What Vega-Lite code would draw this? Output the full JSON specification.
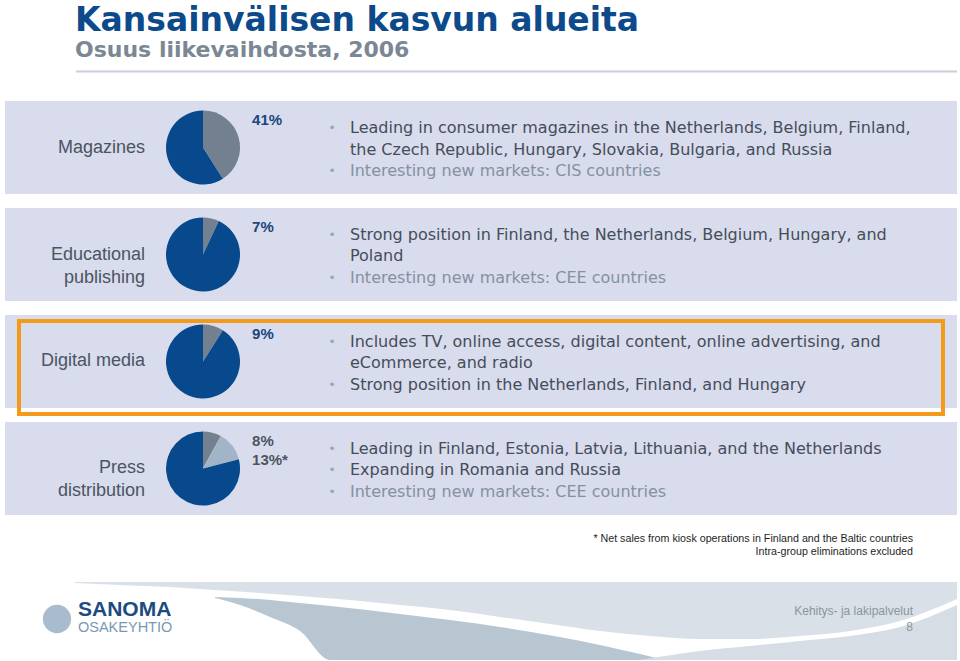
{
  "$schema": "https://vega.github.io/schema/vega-lite/v6.json",
  "background": "white",
  "padding": {"left": 5, "top": 4, "right": 3, "bottom": 0},
  "title": {
    "text": "Kansainvälisen kasvun alueita",
    "subtitle": "Osuus liikevaihdosta, 2006",
    "anchor": "start",
    "frame": "group",
    "dx": 70,
    "offset": 10,
    "font": "DejaVu Sans",
    "fontSize": 33,
    "fontWeight": "bold",
    "color": "#0c4a8b",
    "subtitleFont": "DejaVu Sans",
    "subtitleFontSize": 22,
    "subtitleFontWeight": "bold",
    "subtitleColor": "#7b8794",
    "subtitlePadding": 2
  },
  "datasets": {
    "divisions": [
      {"category": "Magazines", "labelLines": ["Magazines"]},
      {"category": "Educational publishing", "labelLines": ["Educational", "publishing"]},
      {"category": "Digital media", "labelLines": ["Digital media"]},
      {"category": "Press distribution", "labelLines": ["Press", "distribution"]}
    ],
    "slices": [
      {"category": "Magazines", "segment": "Division", "order": 1, "share": 41, "label": "41%"},
      {"category": "Magazines", "segment": "Rest of group", "order": 3, "share": 59, "label": ""},
      {"category": "Educational publishing", "segment": "Division", "order": 1, "share": 7, "label": "7%"},
      {"category": "Educational publishing", "segment": "Rest of group", "order": 3, "share": 93, "label": ""},
      {"category": "Digital media", "segment": "Division", "order": 1, "share": 9, "label": "9%"},
      {"category": "Digital media", "segment": "Rest of group", "order": 3, "share": 91, "label": ""},
      {"category": "Press distribution", "segment": "Division", "order": 1, "share": 8, "label": "8%"},
      {"category": "Press distribution", "segment": "Kiosk operations", "order": 2, "share": 13, "label": "13%*"},
      {"category": "Press distribution", "segment": "Rest of group", "order": 3, "share": 79, "label": ""}
    ],
    "notes": [
      {"category": "Magazines", "line": 1, "first": true, "kind": "current", "text": "Leading in consumer magazines in the Netherlands, Belgium, Finland,"},
      {"category": "Magazines", "line": 2, "first": false, "kind": "current", "text": "the Czech Republic, Hungary, Slovakia, Bulgaria, and Russia"},
      {"category": "Magazines", "line": 3, "first": true, "kind": "prospect", "text": "Interesting new markets: CIS countries"},
      {"category": "Educational publishing", "line": 1, "first": true, "kind": "current", "text": "Strong position in Finland, the Netherlands, Belgium, Hungary, and"},
      {"category": "Educational publishing", "line": 2, "first": false, "kind": "current", "text": "Poland"},
      {"category": "Educational publishing", "line": 3, "first": true, "kind": "prospect", "text": "Interesting new markets: CEE countries"},
      {"category": "Digital media", "line": 1, "first": true, "kind": "current", "text": "Includes TV, online access, digital content, online advertising, and"},
      {"category": "Digital media", "line": 2, "first": false, "kind": "current", "text": "eCommerce, and radio"},
      {"category": "Digital media", "line": 3, "first": true, "kind": "current", "text": "Strong position in the Netherlands, Finland, and Hungary"},
      {"category": "Press distribution", "line": 1, "first": true, "kind": "current", "text": "Leading in Finland, Estonia, Latvia, Lithuania, and the Netherlands"},
      {"category": "Press distribution", "line": 2, "first": true, "kind": "current", "text": "Expanding in Romania and Russia"},
      {"category": "Press distribution", "line": 3, "first": true, "kind": "prospect", "text": "Interesting new markets: CEE countries"}
    ],
    "footerShapes": [
      {"shape": "upper", "px": 75, "top": 583, "bottom": 584},
      {"shape": "upper", "px": 120, "top": 583, "bottom": 586},
      {"shape": "upper", "px": 170, "top": 583, "bottom": 588},
      {"shape": "upper", "px": 215, "top": 583, "bottom": 591},
      {"shape": "upper", "px": 260, "top": 583, "bottom": 594},
      {"shape": "upper", "px": 300, "top": 583, "bottom": 597},
      {"shape": "upper", "px": 350, "top": 583, "bottom": 601},
      {"shape": "upper", "px": 400, "top": 583, "bottom": 606},
      {"shape": "upper", "px": 450, "top": 583, "bottom": 611},
      {"shape": "upper", "px": 500, "top": 583, "bottom": 618},
      {"shape": "upper", "px": 550, "top": 583, "bottom": 625},
      {"shape": "upper", "px": 600, "top": 583, "bottom": 632},
      {"shape": "upper", "px": 650, "top": 583, "bottom": 637},
      {"shape": "upper", "px": 700, "top": 583, "bottom": 640},
      {"shape": "upper", "px": 750, "top": 583, "bottom": 640},
      {"shape": "upper", "px": 800, "top": 583, "bottom": 637},
      {"shape": "upper", "px": 850, "top": 583, "bottom": 632},
      {"shape": "upper", "px": 900, "top": 583, "bottom": 622},
      {"shape": "upper", "px": 957, "top": 583, "bottom": 600},
      {"shape": "lower", "px": 215, "top": 598, "bottom": 599},
      {"shape": "lower", "px": 240, "top": 599, "bottom": 606},
      {"shape": "lower", "px": 270, "top": 601, "bottom": 618},
      {"shape": "lower", "px": 300, "top": 604, "bottom": 632},
      {"shape": "lower", "px": 330, "top": 607, "bottom": 661},
      {"shape": "lower", "px": 400, "top": 615, "bottom": 661},
      {"shape": "lower", "px": 500, "top": 628, "bottom": 661},
      {"shape": "lower", "px": 600, "top": 646, "bottom": 661},
      {"shape": "lower", "px": 640, "top": 655, "bottom": 661},
      {"shape": "lower", "px": 665, "top": 661, "bottom": 661},
      {"shape": "right", "px": 640, "top": 661, "bottom": 661},
      {"shape": "right", "px": 700, "top": 652, "bottom": 661},
      {"shape": "right", "px": 750, "top": 647, "bottom": 661},
      {"shape": "right", "px": 800, "top": 642, "bottom": 661},
      {"shape": "right", "px": 850, "top": 637, "bottom": 661},
      {"shape": "right", "px": 900, "top": 628, "bottom": 661},
      {"shape": "right", "px": 957, "top": 606, "bottom": 661}
    ],
    "footerTexts": [
      {"item": "brand", "text": "SANOMA", "px": 78, "py": 611},
      {"item": "company", "text": "OSAKEYHTIÖ", "px": 78, "py": 629},
      {"item": "unit", "text": "Kehitys- ja lakipalvelut", "px": 913, "py": 612},
      {"item": "page", "text": "8", "px": 913, "py": 628},
      {"item": "icon", "text": "", "px": 57, "py": 620}
    ]
  },
  "vconcat": [
    {
      "spacing": 28,
      "vconcat": [
        {
          "width": 952,
          "height": 1,
          "data": {"values": [{"element": "separator"}]},
          "mark": {"type": "rule", "color": "#c8ced5", "strokeWidth": 2},
          "encoding": {
            "x": {"datum": 7.46, "type": "quantitative", "scale": {"domain": [0, 100], "nice": false, "zero": false}, "axis": null},
            "x2": {"datum": 100}
          }
        },
        {
          "width": 952,
          "height": 414,
          "title": {
            "text": ["* Net sales from kiosk operations in Finland and  the Baltic countries", "Intra-group eliminations excluded"],
            "orient": "bottom",
            "anchor": "end",
            "frame": "group",
            "align": "right",
            "dx": -44,
            "offset": 19,
            "font": "Liberation Sans",
            "fontSize": 10.7,
            "fontWeight": "normal",
            "color": "#1e1e1e",
            "lineHeight": 13
          },
          "resolve": {"scale": {"yOffset": "independent"}},
          "layer": [
            {
              "data": {"name": "divisions"},
              "mark": {"type": "rect", "fill": "#d8dcec"},
              "encoding": {
                "x": {"datum": 0, "type": "quantitative", "scale": {"domain": [0, 100], "nice": false, "zero": false}, "axis": null},
                "x2": {"datum": 100},
                "y": {
                  "field": "category",
                  "type": "nominal",
                  "scale": {"type": "band", "domain": ["Magazines", "Educational publishing", "Digital media", "Press distribution"], "paddingInner": 0.1308, "paddingOuter": 0},
                  "axis": null
                }
              }
            },
            {
              "data": {"name": "divisions"},
              "transform": [{"filter": "datum.category === 'Digital media'"}],
              "mark": {"type": "rect", "filled": false, "stroke": "#f39a1b", "strokeWidth": 4, "yOffset": 6, "y2Offset": -1},
              "encoding": {
                "x": {"datum": 1.47, "type": "quantitative", "axis": null},
                "x2": {"datum": 98.53},
                "y": {"field": "category", "type": "nominal", "axis": null}
              }
            },
            {
              "data": {"name": "divisions"},
              "mark": {"type": "text", "align": "right", "baseline": "middle", "font": "Liberation Sans", "fontSize": 18, "lineHeight": 23, "color": "#4b5462"},
              "encoding": {
                "x": {"datum": 14.706, "type": "quantitative", "axis": null},
                "y": {"field": "category", "type": "nominal", "axis": null},
                "text": {"field": "labelLines"}
              }
            },
            {
              "data": {"name": "divisions"},
              "mark": {"type": "circle", "size": 5150, "fill": "white", "opacity": 1, "stroke": "#b3bdc9", "strokeWidth": 0.8},
              "encoding": {
                "x": {"datum": 20.8, "type": "quantitative", "axis": null},
                "y": {"field": "category", "type": "nominal", "axis": null}
              }
            },
            {
              "data": {"name": "slices"},
              "transform": [{"stack": "share", "groupby": ["category"], "sort": [{"field": "order", "order": "ascending"}], "as": ["t0", "t1"]}],
              "mark": {"type": "arc", "radius": 37},
              "encoding": {
                "x": {"datum": 20.8, "type": "quantitative", "axis": null},
                "y": {"field": "category", "type": "nominal", "axis": null},
                "theta": {"field": "t0", "type": "quantitative", "scale": {"domain": [0, 100], "range": [0, 6.2832]}},
                "theta2": {"field": "t1"},
                "fill": {"field": "segment", "type": "nominal", "scale": {"domain": ["Division", "Kiosk operations", "Rest of group"], "range": ["#72808f", "#a2b4c7", "#08488d"]}, "legend": null}
              }
            },
            {
              "data": {"name": "slices"},
              "transform": [{"filter": "datum.order < 3"}],
              "mark": {"type": "text", "align": "left", "baseline": "middle", "font": "Liberation Sans", "fontSize": 15, "fontWeight": "bold"},
              "encoding": {
                "x": {"datum": 25.95, "type": "quantitative", "axis": null},
                "y": {"field": "category", "type": "nominal", "axis": null},
                "yOffset": {"field": "order", "type": "ordinal", "scale": {"type": "point", "domain": [1, 2], "range": [19, 38], "padding": 0}},
                "text": {"field": "label"},
                "color": {"condition": {"test": "datum.category === 'Press distribution'", "value": "#4d5562"}, "value": "#1a467f"}
              }
            },
            {
              "data": {"name": "notes"},
              "mark": {"type": "text", "align": "left", "baseline": "middle", "font": "DejaVu Sans", "fontSize": 16},
              "encoding": {
                "x": {"datum": 36.24, "type": "quantitative", "axis": null},
                "y": {"field": "category", "type": "nominal", "axis": null},
                "yOffset": {"field": "line", "type": "ordinal", "scale": {"type": "point", "domain": [1, 2, 3], "range": [27, 70], "padding": 0}},
                "text": {"field": "text"},
                "color": {"field": "kind", "type": "nominal", "scale": {"domain": ["current", "prospect"], "range": ["#454d5a", "#8591a0"]}, "legend": null}
              }
            },
            {
              "data": {"name": "notes"},
              "transform": [{"filter": "datum.first"}],
              "mark": {"type": "text", "text": "•", "align": "center", "baseline": "middle", "font": "DejaVu Sans", "fontSize": 13, "color": "#9ba7b5"},
              "encoding": {
                "x": {"datum": 34.35, "type": "quantitative", "axis": null},
                "y": {"field": "category", "type": "nominal", "axis": null},
                "yOffset": {"field": "line", "type": "ordinal", "scale": {"type": "point", "domain": [1, 2, 3], "range": [27, 70], "padding": 0}}
              }
            }
          ]
        }
      ]
    },
    {
      "width": 952,
      "height": 76,
      "layer": [
        {
          "data": {"name": "footerShapes"},
          "mark": {"type": "area", "interpolate": "monotone"},
          "encoding": {
            "x": {"field": "px", "type": "quantitative", "scale": {"domain": [5, 957], "nice": false, "zero": false}, "axis": null},
            "y": {"field": "top", "type": "quantitative", "stack": null, "scale": {"domain": [583, 659], "reverse": true, "nice": false, "zero": false}, "axis": null},
            "y2": {"field": "bottom"},
            "fill": {"field": "shape", "type": "nominal", "scale": {"domain": ["upper", "lower", "right"], "range": ["#d9e0e7", "#b8c6d2", "#d6dde5"]}, "legend": null}
          }
        },
        {
          "data": {"name": "footerTexts"},
          "transform": [{"filter": "datum.item === 'icon'"}],
          "mark": {"type": "circle", "size": 800, "fill": "#a9bccd", "opacity": 1},
          "encoding": {
            "x": {"field": "px", "type": "quantitative", "axis": null},
            "y": {"field": "py", "type": "quantitative", "axis": null}
          }
        },
        {
          "data": {"name": "footerTexts"},
          "transform": [{"filter": "datum.item === 'brand'"}],
          "mark": {"type": "text", "align": "left", "baseline": "middle", "font": "Liberation Sans", "fontSize": 21, "fontWeight": "bold", "color": "#1d4b80"},
          "encoding": {
            "x": {"field": "px", "type": "quantitative", "axis": null},
            "y": {"field": "py", "type": "quantitative", "axis": null},
            "text": {"field": "text"}
          }
        },
        {
          "data": {"name": "footerTexts"},
          "transform": [{"filter": "datum.item === 'company'"}],
          "mark": {"type": "text", "align": "left", "baseline": "middle", "font": "Liberation Sans", "fontSize": 14.5, "color": "#7a98b5"},
          "encoding": {
            "x": {"field": "px", "type": "quantitative", "axis": null},
            "y": {"field": "py", "type": "quantitative", "axis": null},
            "text": {"field": "text"}
          }
        },
        {
          "data": {"name": "footerTexts"},
          "transform": [{"filter": "datum.item === 'unit' || datum.item === 'page'"}],
          "mark": {"type": "text", "align": "right", "baseline": "middle", "font": "Liberation Sans", "fontSize": 12, "color": "#8a95a1"},
          "encoding": {
            "x": {"field": "px", "type": "quantitative", "axis": null},
            "y": {"field": "py", "type": "quantitative", "axis": null},
            "text": {"field": "text"}
          }
        }
      ]
    }
  ],
  "spacing": 25,
  "resolve": {"scale": {"fill": "independent", "color": "independent"}},
  "config": {
    "view": {"stroke": null}
  }
}
